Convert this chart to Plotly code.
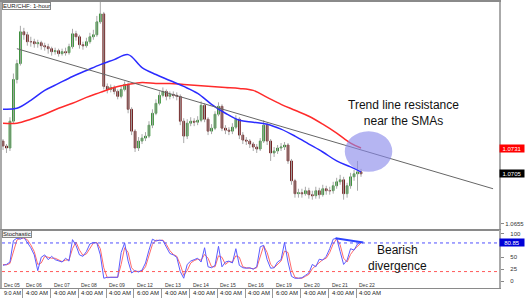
import plotly.graph_objects as go

# ---------------- data (EUR/CHF 1-hour, sampled every 3 hours) ----------------
HOURS_PER_CANDLE = 3

OPEN = [1.0738, 1.0733, 1.0731, 1.0758, 1.0800, 1.0816, 1.0848, 1.0845, 1.0838, 1.0838,
        1.0836, 1.0837, 1.0834, 1.0833, 1.0831, 1.0828, 1.0829, 1.0826, 1.0828, 1.0827,
        1.0833, 1.0846, 1.0843, 1.0835, 1.0834, 1.0838, 1.0843, 1.0845, 1.0858, 1.0866,
        1.0793, 1.0790, 1.0792, 1.0788, 1.0783, 1.0790, 1.0795, 1.0770, 1.0748, 1.0731,
        1.0738, 1.0741, 1.0743, 1.0754, 1.0766, 1.0776, 1.0784, 1.0788, 1.0783, 1.0785,
        1.0784, 1.0783, 1.0758, 1.0743, 1.0756, 1.0758, 1.0757, 1.0759, 1.0774, 1.0760,
        1.0748, 1.0751, 1.0765, 1.0773, 1.0751, 1.0749, 1.0748, 1.0752, 1.0760, 1.0744,
        1.0739, 1.0738, 1.0735, 1.0732, 1.0730, 1.0738, 1.0754, 1.0738, 1.0726, 1.0728,
        1.0731, 1.0732, 1.0734, 1.0718, 1.0698, 1.0685, 1.0686, 1.0685, 1.0688, 1.0684,
        1.0683, 1.0688, 1.0684, 1.0690, 1.0688, 1.0688, 1.0693, 1.0697, 1.0699, 1.0685,
        1.0693, 1.0702, 1.0705, 1.0707]

HIGH = [1.0740, 1.0735, 1.0762, 1.0806, 1.0820, 1.0854, 1.0852, 1.0848, 1.0843, 1.0841,
        1.0840, 1.0839, 1.0837, 1.0836, 1.0833, 1.0832, 1.0831, 1.0831, 1.0832, 1.0836,
        1.0851, 1.0849, 1.0845, 1.0838, 1.0842, 1.0847, 1.0850, 1.0864, 1.0878, 1.0868,
        1.0796, 1.0795, 1.0794, 1.0790, 1.0793, 1.0798, 1.0797, 1.0772, 1.0750, 1.0742,
        1.0745, 1.0747, 1.0758, 1.0770, 1.0780, 1.0788, 1.0792, 1.0790, 1.0788, 1.0788,
        1.0787, 1.0785, 1.0761, 1.0760, 1.0762, 1.0761, 1.0763, 1.0778, 1.0776, 1.0762,
        1.0755, 1.0768, 1.0777, 1.0775, 1.0754, 1.0752, 1.0756, 1.0764, 1.0762, 1.0747,
        1.0742, 1.0740, 1.0737, 1.0735, 1.0741, 1.0759, 1.0756, 1.0740, 1.0732, 1.0734,
        1.0736, 1.0737, 1.0736, 1.0720, 1.0700, 1.0690, 1.0690, 1.0692, 1.0691, 1.0688,
        1.0692, 1.0691, 1.0694, 1.0693, 1.0692, 1.0697, 1.0701, 1.0704, 1.0702, 1.0696,
        1.0706, 1.0709, 1.0718, 1.0710]

LOW = [1.0729, 1.0726, 1.0728, 1.0756, 1.0796, 1.0814, 1.0840, 1.0834, 1.0833, 1.0832,
       1.0832, 1.0830, 1.0829, 1.0826, 1.0824, 1.0825, 1.0823, 1.0824, 1.0824, 1.0825,
       1.0831, 1.0839, 1.0831, 1.0830, 1.0832, 1.0836, 1.0840, 1.0843, 1.0856, 1.0790,
       1.0786, 1.0787, 1.0785, 1.0780, 1.0781, 1.0788, 1.0766, 1.0744, 1.0727, 1.0728,
       1.0735, 1.0738, 1.0741, 1.0751, 1.0764, 1.0774, 1.0782, 1.0779, 1.0780, 1.0781,
       1.0779, 1.0754, 1.0736, 1.0740, 1.0753, 1.0753, 1.0754, 1.0757, 1.0757, 1.0744,
       1.0745, 1.0749, 1.0763, 1.0748, 1.0745, 1.0744, 1.0745, 1.0750, 1.0740, 1.0735,
       1.0734, 1.0731, 1.0728, 1.0726, 1.0728, 1.0736, 1.0734, 1.0718, 1.0722, 1.0725,
       1.0728, 1.0729, 1.0715, 1.0694, 1.0681, 1.0681, 1.0681, 1.0683, 1.0680, 1.0679,
       1.0680, 1.0680, 1.0682, 1.0684, 1.0684, 1.0685, 1.0690, 1.0694, 1.0679, 1.0681,
       1.0690, 1.0698, 1.0688, 1.0702]

CLOSE = [1.0733, 1.0731, 1.0758, 1.0800, 1.0816, 1.0848, 1.0845, 1.0838, 1.0838, 1.0836,
         1.0837, 1.0834, 1.0833, 1.0831, 1.0828, 1.0829, 1.0826, 1.0828, 1.0827, 1.0833,
         1.0846, 1.0843, 1.0835, 1.0834, 1.0838, 1.0843, 1.0845, 1.0858, 1.0866, 1.0793,
         1.0790, 1.0792, 1.0788, 1.0783, 1.0790, 1.0795, 1.0770, 1.0748, 1.0731, 1.0738,
         1.0741, 1.0743, 1.0754, 1.0766, 1.0776, 1.0784, 1.0788, 1.0783, 1.0785, 1.0784,
         1.0783, 1.0758, 1.0743, 1.0756, 1.0758, 1.0757, 1.0759, 1.0774, 1.0760, 1.0748,
         1.0751, 1.0765, 1.0773, 1.0751, 1.0749, 1.0748, 1.0752, 1.0760, 1.0744, 1.0739,
         1.0738, 1.0735, 1.0732, 1.0730, 1.0738, 1.0754, 1.0738, 1.0726, 1.0728, 1.0731,
         1.0732, 1.0734, 1.0718, 1.0698, 1.0685, 1.0686, 1.0685, 1.0688, 1.0684, 1.0683,
         1.0688, 1.0684, 1.0690, 1.0688, 1.0688, 1.0693, 1.0697, 1.0699, 1.0685, 1.0693,
         1.0702, 1.0705, 1.0707, 1.0705]

SMA_HOURS = [0, 12, 24, 36, 48, 60, 72, 84, 96, 108, 120, 132, 144, 156, 168, 180, 192,
             204, 216, 228, 240, 252, 264, 276, 288, 300, 309]
SMA_100 = [1.0770, 1.0771, 1.0779, 1.0789, 1.0796, 1.0803, 1.0809, 1.0815, 1.0820, 1.0825,
           1.0812, 1.0805, 1.0799, 1.0793, 1.0786, 1.0775, 1.0766, 1.0759, 1.0757, 1.0755,
           1.0750, 1.0743, 1.0735, 1.0727, 1.0718, 1.0712, 1.0707]
SMA_200 = [1.0756, 1.0756, 1.0760, 1.0765, 1.0771, 1.0776, 1.0782, 1.0787, 1.0792, 1.0795,
           1.0797, 1.0796, 1.0796, 1.0795, 1.0794, 1.0793, 1.0792, 1.0791, 1.0789, 1.0782,
           1.0775, 1.0769, 1.0763, 1.0755, 1.0746, 1.0736, 1.0731]

STOCH_K = [33, 35, 40, 85, 90, 88, 92, 82, 70, 55,
           22, 50, 55, 45, 52, 45, 42, 40, 48, 42,
           87, 75, 55, 52, 62, 78, 81, 80, 55, 6,
           8, 8, 7, 8, 60, 80, 42, 17, 22, 19,
           23, 38, 65, 88, 84, 86, 85, 70, 58, 55,
           50, 20, 6, 35, 42, 45, 48, 40, 70, 30,
           28, 33, 73, 30, 40, 42, 38, 68, 33, 28,
           27, 28, 25, 30, 72, 75, 45, 27, 28, 40,
           45, 81, 40, 10, 6, 6, 7, 12, 17, 35,
           30, 46, 44, 52, 68, 88, 90, 62, 35, 44,
           68, 65, 78, 80.85]
STOCH_D = [35, 34, 37, 62, 86, 90, 90, 87, 76, 62,
           35, 38, 52, 50, 48, 48, 44, 41, 44, 45,
           68, 82, 65, 54, 57, 70, 80, 81, 68, 28,
           7, 8, 8, 8, 35, 70, 60, 28, 20, 20,
           21, 30, 52, 77, 86, 85, 86, 77, 64, 56,
           52, 35, 12, 22, 38, 43, 46, 44, 56, 48,
           30, 30, 53, 50, 35, 41, 40, 53, 50, 30,
           28, 27, 26, 28, 52, 74, 60, 35, 28, 34,
           42, 63, 60, 25, 8, 6, 6, 10, 14, 26,
           32, 38, 45, 48, 60, 78, 89, 76, 48, 40,
           56, 66, 72, 80]
STOCH_LEVELS = [80, 20]

TREND_HOURS = [12, 423]
TREND_PRICE = [1.0831, 1.0690]
ZONE_HOURS = [295, 336]
ZONE_PRICE = [1.0707, 1.0748]
DIV_HOURS = [287, 311]
DIV_VALUES = [90, 81]

DAY_HOURS = [17, 41, 65, 89, 113, 137, 161, 185, 209, 233, 257, 281, 305]
DAY_LABELS = ["Dec 06", "Dec 07", "Dec 08", "Dec 09", "Dec 12", "Dec 13", "Dec 14",
              "Dec 15", "Dec 16", "Dec 19", "Dec 20", "Dec 21", "Dec 22"]
TIME_LABELS = ["4:00 AM", "4:00 AM", "4:00 AM", "4:00 AM", "6:00 AM", "4:00 AM", "4:00 AM",
               "4:00 AM", "4:00 AM", "6:00 AM", "4:00 AM", "4:00 AM", "4:00 AM"]
FIRST_DAY = "Dec 05"
FIRST_TIME = "9:0 AM"
PRICE_TICKS = [1.0655]
STOCH_TICKS = [0, 25, 50, 100]

# ---------------- figure ----------------
FONT = "Arial, Liberation Sans, sans-serif"
x_c = [i * HOURS_PER_CANDLE for i in range(len(CLOSE))]
X_RANGE = [-0.86, 428.2]
XD = [0, 499 / 525]

wick_x, wick_y = [], []
for x, lo, hi in zip(x_c, LOW, HIGH):
    wick_x += [x, x, None]
    wick_y += [lo, hi, None]
body_hi = [max(o, c) for o, c in zip(OPEN, CLOSE)]
body_lo = [min(o, c) for o, c in zip(OPEN, CLOSE)]

fig = go.Figure()
fig.add_trace(go.Scatter(x=wick_x, y=wick_y, mode="lines", line=dict(color="#a8a8a8", width=1),
                         xaxis="x", yaxis="y", hoverinfo="skip"))
fig.add_trace(go.Candlestick(x=x_c, open=OPEN, high=body_hi, low=body_lo, close=CLOSE,
                             increasing=dict(line=dict(color="#2e8b2e", width=1), fillcolor="#2e8b2e"),
                             decreasing=dict(line=dict(color="#6a1010", width=1), fillcolor="#6a1010"),
                             whiskerwidth=0, xaxis="x", yaxis="y"))
fig.add_trace(go.Scatter(x=SMA_HOURS, y=SMA_200, mode="lines",
                         line=dict(color="#ff2b2b", width=1.5, shape="spline"), xaxis="x", yaxis="y"))
fig.add_trace(go.Scatter(x=SMA_HOURS, y=SMA_100, mode="lines",
                         line=dict(color="#2b2bff", width=1.5, shape="spline"), xaxis="x", yaxis="y"))
fig.add_trace(go.Scatter(x=TREND_HOURS, y=TREND_PRICE, mode="lines",
                         line=dict(color="#666666", width=1), xaxis="x", yaxis="y"))

fig.add_trace(go.Scatter(x=x_c, y=STOCH_D, mode="lines", line=dict(color="#ff6b6b", width=1),
                         xaxis="x2", yaxis="y2"))
fig.add_trace(go.Scatter(x=x_c, y=STOCH_K, mode="lines", line=dict(color="#5b5bff", width=1),
                         xaxis="x2", yaxis="y2"))
fig.add_trace(go.Scatter(x=DIV_HOURS, y=DIV_VALUES, mode="lines", line=dict(color="#2f45ff", width=2),
                         xaxis="x2", yaxis="y2"))

for lvl, col in zip(STOCH_LEVELS, ["#4f4fff", "#ff5a5a"]):
    fig.add_shape(type="line", xref="x2 domain", x0=0, x1=1, yref="y2", y0=lvl, y1=lvl,
                  line=dict(color=col, width=1, dash="dot"))

fig.add_shape(type="circle", xref="x", yref="y", x0=ZONE_HOURS[0], x1=ZONE_HOURS[1],
              y0=ZONE_PRICE[0], y1=ZONE_PRICE[1], fillcolor="#8787ea", opacity=0.62,
              line=dict(width=0), layer="above")

ann = []
ann.append(dict(text="Trend line resistance<br>near the SMAs", x=403 / 525, y=1 - 112 / 298,
                xref="paper", yref="paper", xanchor="center", yanchor="middle", showarrow=False,
                font=dict(family=FONT, size=12, color="#111")))
ann.append(dict(text="Bearish<br>divergence", x=397 / 525, y=1 - 258 / 298,
                xref="paper", yref="paper", xanchor="center", yanchor="middle", showarrow=False,
                font=dict(family=FONT, size=12, color="#111")))
ann.append(dict(text="EUR/CHF: 1-hour", x=0, y=1, xref="paper", yref="paper", xanchor="left", yanchor="top",
                showarrow=False, font=dict(family=FONT, size=6, color="#222"), bgcolor="white",
                bordercolor="#888", borderwidth=1, borderpad=0))
ann.append(dict(text="Stochastic", x=0, y=1 - 230 / 298, xref="paper", yref="paper", xanchor="left",
                yanchor="top", showarrow=False, font=dict(family=FONT, size=6, color="#222"),
                bgcolor="#f2f2f2", bordercolor="#888", borderwidth=1, borderpad=0))
# price / value boxes on the right scale
ann.append(dict(text=f"{SMA_200[-1]:.4f}", x=XD[1], xref="paper", xanchor="left", y=SMA_200[-1], yref="y",
                yanchor="middle", showarrow=False, bgcolor="#ff0000",
                font=dict(family=FONT, size=6, color="white"), width=24, height=7, borderpad=0))
ann.append(dict(text=f"{CLOSE[-1]:.4f}", x=XD[1], xref="paper", xanchor="left", y=CLOSE[-1], yref="y",
                yanchor="middle", showarrow=False, bgcolor="#000000",
                font=dict(family=FONT, size=6, color="white"), width=24, height=7, borderpad=0))
ann.append(dict(text=f"{STOCH_K[-1]:.2f}", x=XD[1], xref="paper", xanchor="left", y=STOCH_K[-1], yref="y2",
                yanchor="middle", showarrow=False, bgcolor="#0000d8",
                font=dict(family=FONT, size=6, color="white"), width=24, height=7, borderpad=0))
# day / time labels
DATE_Y = 1 - 284.5 / 298
TIME_Y = 1 - 293 / 298
ann.append(dict(text=FIRST_DAY, x=X_RANGE[0], xref="x2", xanchor="left", y=DATE_Y, yref="paper",
                yanchor="middle", showarrow=False, font=dict(family=FONT, size=5, color="#333")))
ann.append(dict(text=FIRST_TIME, x=X_RANGE[0], xref="x2", xanchor="left", y=TIME_Y, yref="paper",
                yanchor="middle", showarrow=False, font=dict(family=FONT, size=5.5, color="#222")))
for h, d, t in zip(DAY_HOURS, DAY_LABELS, TIME_LABELS):
    ann.append(dict(text=d, x=h, xref="x2", xanchor="left", xshift=1, y=DATE_Y, yref="paper",
                    yanchor="middle", showarrow=False, font=dict(family=FONT, size=5, color="#333")))
    ann.append(dict(text=t, x=h, xref="x2", xanchor="left", xshift=1, y=TIME_Y, yref="paper",
                    yanchor="middle", showarrow=False, font=dict(family=FONT, size=6, color="#222")))

fig.update_layout(
    width=525, height=298, margin=dict(l=0, r=0, t=0, b=0),
    paper_bgcolor="white", plot_bgcolor="white", showlegend=False, hovermode=False,
    font=dict(family=FONT),
    annotations=ann,
    xaxis=dict(domain=XD, range=X_RANGE, anchor="y", showticklabels=False, showgrid=False,
               zeroline=False, showline=True, linecolor="#8a8a8a", linewidth=2, mirror=True,
               ticks="", rangeslider=dict(visible=False)),
    yaxis=dict(domain=[1 - 229 / 298, 1], range=[1.0649, 1.0878], anchor="x", side="right",
               showgrid=False, zeroline=False, showline=True, linecolor="#aaaaaa", linewidth=2,
               mirror=True, tickvals=PRICE_TICKS, ticktext=[f"{v:.4f}" for v in PRICE_TICKS],
               ticks="outside", ticklen=3, tickcolor="#888",
               tickfont=dict(family=FONT, size=6, color="#333")),
    xaxis2=dict(domain=XD, range=X_RANGE, anchor="y2", showticklabels=False, showgrid=False,
                zeroline=False, showline=True, linecolor="#8a8a8a", linewidth=1, mirror=True,
                tickvals=DAY_HOURS, ticks="outside", ticklen=10, tickcolor="#999", tickwidth=1),
    yaxis2=dict(domain=[1 - 288 / 298, 1 - 230 / 298], range=[-14.6, 106.25], anchor="x2", side="right",
                showgrid=False, zeroline=False, showline=True, linecolor="#aaaaaa", linewidth=2,
                mirror=True, tickvals=STOCH_TICKS, ticks="outside", ticklen=3, tickcolor="#888",
                ticklabelstandoff=5, tickfont=dict(family=FONT, size=6, color="#333")),
)

fig.write_html("out.html", config={"displayModeBar": False})
